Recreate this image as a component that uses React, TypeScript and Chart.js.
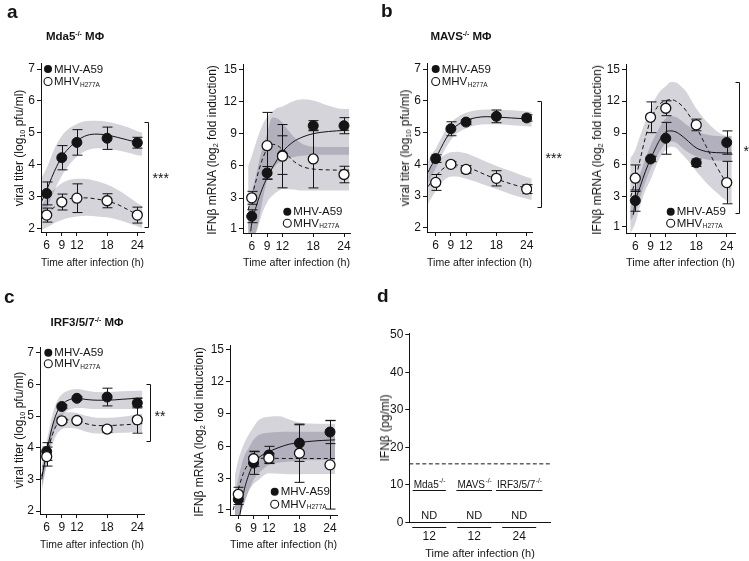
import React, { useEffect, useRef } from "react";
import { Chart, registerables } from "chart.js";

Chart.register(...registerables);

const FONT = "'Liberation Sans', Arial, Helvetica, sans-serif";
const INK = "#141414";
const BAND = "rgb(213,212,219)";
const W = 749;
const H = 561;

// ---------------- shared axis data ----------------
const times = [6, 9, 12, 18, 24];
const titerTicks = [2, 3, 4, 5, 6, 7];
const titerTickLabels = ["2", "3", "4", "5", "6", "7"];
const ifnTicks = [0.15, 3, 6, 9, 12, 15];
const ifnTickLabels = ["1", "3", "6", "9", "12", "15"];
const seriesNames = ["MHV-A59", "MHV"];
const mutantSubscript = "H277A";
const xTitle = "Time after infection (h)";

// ---------------- a: Mda5-/- viral titer ----------------
const mdaTiterA59 = [3.1, 4.22, 4.7, 4.83, 4.69];
const mdaTiterA59Err = [0.36, 0.38, 0.4, 0.35, 0.17];
const mdaTiterH277A = [2.42, 2.83, 2.95, 2.87, 2.42];
const mdaTiterH277AErr = [0.22, 0.25, 0.45, 0.22, 0.25];
const mdaTiterFitX = [5.0, 6, 7, 8, 9, 10, 12, 14, 16, 18, 20, 22, 24, 25];
const mdaTiterA59Fit = [2.85, 3.2, 3.6, 3.95, 4.25, 4.45, 4.75, 4.92, 4.96, 4.93, 4.86, 4.78, 4.7, 4.67];
const mdaTiterA59Hi = [3.6, 3.9, 4.3, 4.65, 4.9, 5.08, 5.28, 5.37, 5.38, 5.35, 5.28, 5.18, 5.05, 5.0];
const mdaTiterA59Lo = [2.35, 2.6, 3.0, 3.35, 3.65, 3.9, 4.25, 4.45, 4.52, 4.5, 4.45, 4.38, 4.3, 4.28];
const mdaTiterH277AFit = [2.3, 2.45, 2.6, 2.73, 2.84, 2.91, 2.96, 2.96, 2.92, 2.86, 2.76, 2.6, 2.43, 2.35];
const mdaTiterH277AHi = [2.75, 2.95, 3.15, 3.3, 3.42, 3.5, 3.56, 3.55, 3.48, 3.38, 3.22, 3.02, 2.8, 2.7];
const mdaTiterH277ALo = [1.95, 2.03, 2.12, 2.2, 2.27, 2.32, 2.38, 2.4, 2.38, 2.35, 2.28, 2.18, 2.07, 2.0];

// ---------------- a: Mda5-/- IFNb mRNA ----------------
const mdaIfnA59 = [1.3, 5.34, 7.0, 9.74, 9.74];
const mdaIfnA59Err = [0.6, 0.6, 1.8, 0.47, 0.75];
const mdaIfnH277A = [3.02, 7.88, 6.9, 6.64, 5.19];
const mdaIfnH277AErr = [0.6, 3.1, 2.95, 2.7, 0.77];
const mdaIfnA59FitX = [5.8, 6, 7, 8, 9, 10, 11, 12, 14, 16, 18, 21, 24, 25];
const mdaIfnA59Fit = [-0.1, 0.6, 2.4, 3.8, 4.9, 5.8, 6.6, 7.3, 8.2, 8.7, 9.0, 9.2, 9.3, 9.32];
const mdaIfnH277AFitX = [5.3, 6, 7, 8, 9, 10, 11, 12, 13, 14, 15, 16, 18, 21, 24, 25];
const mdaIfnH277AFit = [1.9, 3.1, 4.9, 6.5, 7.6, 8.0, 7.9, 7.5, 7.0, 6.5, 6.15, 5.9, 5.7, 5.62, 5.6, 5.6];
const mdaIfnBandX = [5.3, 6, 7, 8, 9, 10, 11, 12, 14, 16, 18, 21, 24, 25];
const mdaIfnA59Hi = [5.96, 6.9, 8.4, 9.7, 10.55, 11.07, 11.38, 11.53, 12.0, 12.2, 12.08, 11.6, 11.3, 11.3];
const mdaIfnA59Lo = [-0.5, -0.5, 0.0, 2.5, 4.6, 5.6, 6.2, 6.45, 6.8, 6.95, 7.03, 7.04, 7.04, 7.04];
const mdaIfnH277AHi = [2.0, 3.5, 5.5, 7.5, 9.0, 10.5, 10.4, 10.0, 8.8, 8.0, 7.78, 7.76, 7.76, 7.76];
const mdaIfnH277ALo = [-0.5, -0.5, 0.0, 1.5, 2.6, 3.2, 3.6, 3.85, 3.8, 3.7, 3.7, 3.7, 3.7, 3.7];

// ---------------- b: MAVS-/- viral titer ----------------
const mavsTiterA59 = [4.18, 5.12, 5.33, 5.51, 5.46];
const mavsTiterA59Err = [0.12, 0.22, 0.08, 0.2, 0.1];
const mavsTiterH277A = [3.43, 4.0, 3.84, 3.56, 3.22];
const mavsTiterH277AErr = [0.25, 0.08, 0.12, 0.24, 0.14];
const mavsTiterFitX = [4.5, 5, 6, 7, 8, 9, 10, 12, 14, 16, 18, 21, 24, 25];
const mavsTiterA59Fit = [3.75, 3.92, 4.18, 4.5, 4.8, 5.03, 5.2, 5.38, 5.47, 5.5, 5.49, 5.46, 5.43, 5.42];
const mavsTiterA59Hi = [4.1, 4.27, 4.5, 4.8, 5.08, 5.3, 5.45, 5.62, 5.7, 5.73, 5.72, 5.7, 5.66, 5.65];
const mavsTiterA59Lo = [3.4, 3.58, 3.88, 4.2, 4.52, 4.77, 4.95, 5.13, 5.23, 5.26, 5.26, 5.23, 5.2, 5.19];
const mavsTiterH277AFit = [3.3, 3.42, 3.62, 3.8, 3.92, 3.97, 3.98, 3.92, 3.8, 3.66, 3.54, 3.38, 3.25, 3.22];
const mavsTiterH277AHi = [3.8, 3.92, 4.1, 4.22, 4.32, 4.38, 4.4, 4.35, 4.22, 4.08, 3.95, 3.78, 3.6, 3.55];
const mavsTiterH277ALo = [2.75, 2.9, 3.15, 3.4, 3.55, 3.62, 3.62, 3.55, 3.45, 3.33, 3.22, 3.05, 2.92, 2.88];

// ---------------- b: MAVS-/- IFNb mRNA ----------------
const mavsIfnA59 = [2.63, 6.55, 8.5, 6.2, 8.1];
const mavsIfnA59Err = [1.0, 0.25, 1.5, 0.35, 1.1];
const mavsIfnH277A = [4.74, 10.48, 11.33, 9.76, 4.33];
const mavsIfnH277AErr = [1.25, 1.45, 0.7, 0.55, 2.0];
const mavsIfnA59FitX = [5.6, 6, 7, 8, 9, 10, 11, 12, 13, 14, 15, 16, 18, 20, 22, 24, 25];
const mavsIfnA59Fit = [1.3, 2.5, 4.0, 5.4, 6.55, 7.6, 8.5, 9.1, 9.2, 9.1, 8.8, 8.4, 7.6, 7.25, 7.15, 7.12, 7.12];
const mavsIfnH277AFitX = [5.1, 6, 7, 8, 9, 10, 11, 12, 13, 14, 15, 16, 18, 20, 22, 24, 24.6];
const mavsIfnH277AFit = [3.0, 4.55, 6.6, 8.6, 10.2, 11.2, 11.8, 12.05, 12.15, 12.0, 11.65, 11.1, 9.55, 7.7, 5.85, 4.25, 3.8];
const mavsIfnBandX = [5.0, 6, 7, 8, 9, 10, 11, 12, 13, 14, 15, 16, 18, 20, 22, 24, 25];
const mavsIfnA59Hi = [1.9, 3.6, 5.2, 6.6, 7.8, 8.8, 9.7, 10.4, 10.6, 10.5, 10.2, 9.8, 9.2, 8.85, 8.72, 8.7, 8.7];
const mavsIfnA59Lo = [0.7, 1.5, 3.0, 4.4, 5.6, 6.6, 7.4, 8.0, 8.2, 8.1, 7.7, 7.3, 6.8, 6.5, 6.4, 6.35, 6.35];
const mavsIfnH277AHi = [6.6, 7.4, 8.8, 10.1, 11.3, 12.3, 13.0, 13.4, 13.8, 13.75, 13.4, 12.9, 11.3, 10.1, 9.2, 8.75, 8.75];
const mavsIfnH277ALo = [-0.5, 0.5, 2.2, 3.6, 4.6, 5.8, 6.8, 7.4, 7.7, 7.6, 7.1, 6.6, 5.4, 4.3, 3.4, 2.6, 2.3];

// ---------------- c: IRF3/5/7-/- viral titer ----------------
const irfTiterA59 = [3.88, 5.3, 5.56, 5.6, 5.41];
const irfTiterA59Err = [0.28, 0.05, 0.05, 0.28, 0.15];
const irfTiterH277A = [3.72, 4.85, 4.86, 4.59, 4.88];
const irfTiterH277AErr = [0.3, 0.05, 0.04, 0.1, 0.42];
const irfTiterFitX = [5.0, 5.5, 6, 7, 8, 9, 10, 12, 14, 16, 18, 21, 24, 25];
const irfTiterA59Fit = [3.0, 3.45, 3.85, 4.6, 5.1, 5.35, 5.48, 5.56, 5.52, 5.5, 5.5, 5.53, 5.56, 5.57];
const irfTiterA59Hi = [3.35, 3.8, 4.2, 4.95, 5.45, 5.68, 5.78, 5.85, 5.8, 5.76, 5.76, 5.78, 5.8, 5.8];
const irfTiterA59Lo = [2.6, 3.05, 3.5, 4.25, 4.75, 5.02, 5.15, 5.25, 5.24, 5.22, 5.22, 5.22, 5.22, 5.22];
const irfTiterH277AFit = [3.1, 3.45, 3.75, 4.35, 4.72, 4.85, 4.88, 4.85, 4.75, 4.7, 4.7, 4.72, 4.75, 4.76];
const irfTiterH277AHi = [3.4, 3.75, 4.05, 4.65, 5.0, 5.1, 5.12, 5.1, 5.0, 4.95, 4.95, 4.98, 5.05, 5.08];
const irfTiterH277ALo = [2.75, 3.1, 3.45, 4.05, 4.42, 4.58, 4.62, 4.6, 4.5, 4.45, 4.45, 4.47, 4.5, 4.5];

// ---------------- c: IRF3/5/7-/- IFNb mRNA ----------------
const irfIfnA59 = [1.1, 4.45, 5.2, 6.3, 7.33];
const irfIfnA59Err = [0.5, 1.05, 0.8, 1.7, 1.08];
const irfIfnH277A = [1.55, 4.85, 4.9, 5.36, 4.28];
const irfIfnH277AErr = [0.65, 0.7, 0.45, 2.7, 4.1];
const irfIfnA59FitX = [6.3, 7, 8, 9, 10, 12, 14, 16, 18, 21, 24, 25];
const irfIfnA59Fit = [-0.4, 1.6, 3.3, 4.4, 4.95, 5.5, 5.9, 6.2, 6.35, 6.5, 6.58, 6.6];
const irfIfnH277AFitX = [5.0, 6, 7, 8, 9, 10, 12, 14, 18, 24, 25];
const irfIfnH277AFit = [0.1, 2.0, 3.5, 4.4, 4.78, 4.88, 4.9, 4.88, 4.87, 4.87, 4.87];
const irfIfnBandX = [5.3, 6, 7, 8, 9, 10, 12, 14, 16, 18, 21, 24, 25];
const irfIfnA59Hi = [3.25, 4.73, 6.12, 7.05, 7.82, 8.44, 8.75, 8.8, 8.5, 8.2, 8.1, 8.1, 8.1];
const irfIfnA59Lo = [-0.5, -0.5, 0.5, 1.8, 2.9, 3.5, 4.27, 4.5, 4.6, 4.67, 4.7, 4.73, 4.73];
const irfIfnH277AHi = [1.5, 3.0, 4.9, 5.8, 6.6, 7.05, 7.27, 7.33, 7.35, 7.36, 7.36, 7.36, 7.36];
const irfIfnH277ALo = [-0.5, -0.5, 0.5, 1.8, 2.5, 2.9, 3.5, 3.45, 3.4, 3.42, 3.44, 3.44, 3.44];

// ---------------- d: IFNb protein ----------------
const dGroups = ["Mda5", "MAVS", "IRF3/5/7"];
const dGroupSup = "-/-";
const dTimes = ["12", "12", "24"];
const dResults = ["ND", "ND", "ND"];
const dTicks = [0, 10, 20, 30, 40, 50];
const dDetectionLimit = 15.6;

// ---------------- plugin ----------------
// Filler updates control points in beforeDraw and paints bands in beforeDatasetsDraw;
// this plugin (running after the filler) switches to multiply in between so that
// overlapping confidence bands darken, then restores normal compositing.
const figurePlugin: any = {
  id: "figure",
  beforeDraw(chart: any) {
    chart.ctx.globalCompositeOperation = "multiply";
  },
  beforeDatasetsDraw(chart: any) {
    chart.ctx.globalCompositeOperation = "source-over";
  },
  beforeDatasetDraw(chart: any, args: any) {
    const ds: any = chart.data.datasets[args.index];
    if (!ds.errorBars) return;
    const ctx = chart.ctx;
    const ys = chart.scales.y;
    ctx.save();
    ctx.strokeStyle = INK;
    ctx.lineWidth = 1;
    args.meta.data.forEach((pt: any, i: number) => {
      const v = ds.data[i].y;
      const e = ds.errorBars[i];
      const x = Math.round(pt.x) + 0.5;
      const y1 = ys.getPixelForValue(v + e);
      const y2 = ys.getPixelForValue(v - e);
      ctx.beginPath();
      ctx.moveTo(x, y1);
      ctx.lineTo(x, y2);
      ctx.moveTo(x - 5, y1);
      ctx.lineTo(x + 5, y1);
      ctx.moveTo(x - 5, y2);
      ctx.lineTo(x + 5, y2);
      ctx.stroke();
    });
    ctx.restore();
  },
  afterDraw(chart: any, _args: any, opts: any) {
    const ctx = chart.ctx;
    const ys = chart.scales.y;
    const xs = chart.scales.x;
    const area = chart.chartArea;
    ctx.save();
    ctx.globalCompositeOperation = "source-over";
    ctx.fillStyle = INK;
    ctx.strokeStyle = INK;
    ctx.lineWidth = 1;
    if (opts.legend) {
      const { x, y, gap } = opts.legend;
      seriesNames.forEach((name, i) => {
        const cy = y + i * gap;
        ctx.beginPath();
        ctx.arc(x, cy, 4, 0, Math.PI * 2);
        if (i === 0) {
          ctx.fillStyle = INK;
          ctx.fill();
        } else {
          ctx.fillStyle = "#fff";
          ctx.fill();
          ctx.lineWidth = 1.1;
          ctx.stroke();
        }
        ctx.fillStyle = INK;
        ctx.font = `11.5px ${FONT}`;
        ctx.textAlign = "left";
        ctx.textBaseline = "middle";
        ctx.fillText(name, x + 6, cy + 0.5);
        if (i === 1) {
          const w = ctx.measureText(name).width;
          ctx.font = `6.5px ${FONT}`;
          ctx.fillText(mutantSubscript, x + 6 + w + 0.5, cy + 3.5);
        }
      });
    }
    if (opts.sig) {
      const { dx, top, bottom, label } = opts.sig;
      const bx = Math.round(area.right + dx) + 0.5;
      const y1 = Math.round(ys.getPixelForValue(top)) + 0.5;
      const y2 = Math.round(ys.getPixelForValue(bottom)) + 0.5;
      ctx.lineWidth = 1;
      ctx.beginPath();
      ctx.moveTo(bx - 4, y1);
      ctx.lineTo(bx, y1);
      ctx.lineTo(bx, y2);
      ctx.lineTo(bx - 4, y2);
      ctx.stroke();
      ctx.font = `14px ${FONT}`;
      ctx.textAlign = "left";
      ctx.textBaseline = "alphabetic";
      ctx.fillText(label, bx + 4, (y1 + y2) / 2 + 8);
    }
    if (opts.groups) {
      const g = opts.groups;
      dGroups.forEach((lab, i) => {
        const cx = xs.getPixelForValue(i + 1);
        ctx.font = `10px ${FONT}`;
        const w1 = ctx.measureText(lab).width;
        ctx.font = `6.5px ${FONT}`;
        const w2 = ctx.measureText(dGroupSup).width;
        const sx = cx - (w1 + w2) / 2;
        const gy = ys.getPixelForValue(g.labelY);
        ctx.textAlign = "left";
        ctx.textBaseline = "alphabetic";
        ctx.font = `10px ${FONT}`;
        ctx.fillText(lab, sx, gy);
        ctx.font = `6.5px ${FONT}`;
        ctx.fillText(dGroupSup, sx + w1 + 0.5, gy - 4.5);
        const uy = Math.round(ys.getPixelForValue(g.underlineY)) + 0.5;
        ctx.beginPath();
        ctx.moveTo(sx - 1, uy);
        ctx.lineTo(sx + w1 + w2 + 1, uy);
        ctx.stroke();
        ctx.font = `11px ${FONT}`;
        ctx.textAlign = "center";
        ctx.textBaseline = "middle";
        ctx.fillText(dResults[i], cx, ys.getPixelForValue(g.resultY));
        const ly = Math.round(area.bottom + 5) + 0.5;
        ctx.beginPath();
        ctx.moveTo(cx - 17, ly);
        ctx.lineTo(cx + 17, ly);
        ctx.stroke();
      });
    }
    ctx.restore();
  },
};

// ---------------- config builders ----------------
type Curve = { x: number[]; y: number[] };
type Band = { x: number[]; lo: number[]; hi: number[] };
interface SeriesPanel {
  area: [number, number, number, number];
  xRange: [number, number];
  yRange: [number, number];
  yTicks: number[];
  yTickLabels: string[];
  xTitleY: number;
  a59: number[];
  a59Err: number[];
  h277a: number[];
  h277aErr: number[];
  a59Fit: Curve;
  h277aFit: Curve;
  a59Band: Band;
  h277aBand: Band;
  legend: { x: number; y: number; gap: number };
  sig?: { dx: number; top: number; bottom: number; label: string };
}

const pts = (xs: number[], ys: number[]) => xs.map((x, i) => ({ x, y: ys[i] }));
const tickFont = { family: FONT, size: 12 };
const Y_W = 30;
const TITLE_SIZE = 11;

function axisCommon() {
  return {
    grid: { display: true, drawOnChartArea: false, drawTicks: true, tickLength: 4, color: INK, lineWidth: 1 },
    border: { display: true, color: INK, width: 1 },
  };
}

function seriesConfig(p: SeriesPanel) {
  const [l, t, r, b] = p.area;
  const xH = p.xTitleY - b + (TITLE_SIZE * 1.2) / 2;
  const bandBase = { pointRadius: 0, borderWidth: 0, borderColor: "rgba(0,0,0,0)", cubicInterpolationMode: "monotone" };
  const datasets: any[] = [
    { ...bandBase, label: "A59 band low", data: pts(p.a59Band.x, p.a59Band.lo), fill: false, order: 5 },
    { ...bandBase, label: "A59 band high", data: pts(p.a59Band.x, p.a59Band.hi), fill: "-1", backgroundColor: BAND, order: 5 },
    { ...bandBase, label: "H277A band low", data: pts(p.h277aBand.x, p.h277aBand.lo), fill: false, order: 4 },
    { ...bandBase, label: "H277A band high", data: pts(p.h277aBand.x, p.h277aBand.hi), fill: "-1", backgroundColor: BAND, order: 4 },
    { label: "A59 fit", data: pts(p.a59Fit.x, p.a59Fit.y), borderColor: INK, borderWidth: 1, pointRadius: 0, cubicInterpolationMode: "monotone", fill: false, order: 2 },
    { label: "H277A fit", data: pts(p.h277aFit.x, p.h277aFit.y), borderColor: INK, borderWidth: 1, borderDash: [4, 3], pointRadius: 0, cubicInterpolationMode: "monotone", fill: false, order: 2 },
    { label: seriesNames[0], data: pts(times, p.a59), errorBars: p.a59Err, showLine: false, pointRadius: 5, pointBackgroundColor: INK, pointBorderColor: INK, pointBorderWidth: 1, order: 1 },
    { label: seriesNames[1] + " " + mutantSubscript, data: pts(times, p.h277a), errorBars: p.h277aErr, showLine: false, pointRadius: 5, pointBackgroundColor: "#fff", pointBorderColor: INK, pointBorderWidth: 1.3, order: 0 },
  ];
  return {
    type: "line",
    data: { datasets },
    options: {
      responsive: false,
      animation: false,
      devicePixelRatio: 1,
      events: [],
      layout: { padding: { left: l - Y_W, top: t, right: W - r, bottom: H - b - xH } },
      plugins: {
        legend: { display: false },
        tooltip: { enabled: false },
        title: { display: false },
        filler: { drawTime: "beforeDatasetsDraw", propagate: false },
        figure: { legend: p.legend, sig: p.sig },
      },
      scales: {
        x: {
          type: "linear",
          min: p.xRange[0],
          max: p.xRange[1],
          ...axisCommon(),
          afterFit: (s: any) => {
            s.height = xH;
          },
          afterBuildTicks: (s: any) => {
            s.ticks = times.map((v) => ({ value: v }));
          },
          ticks: { font: tickFont, color: INK, padding: 2, autoSkip: false, maxRotation: 0, callback: (v: any) => String(v) },
          title: { display: true, text: xTitle, font: { family: FONT, size: TITLE_SIZE }, color: INK, padding: 0 },
        },
        y: {
          type: "linear",
          min: p.yRange[0],
          max: p.yRange[1],
          ...axisCommon(),
          afterFit: (s: any) => {
            s.width = Y_W;
          },
          afterBuildTicks: (s: any) => {
            s.ticks = p.yTicks.map((v) => ({ value: v }));
          },
          ticks: { font: tickFont, color: INK, padding: 2, autoSkip: false, callback: (_v: any, i: number) => p.yTickLabels[i] },
        },
      },
    },
    plugins: [figurePlugin],
  };
}

function proteinConfig() {
  const l = 409.3, t = 333, r = 550.7, b = 522.3;
  const xMin = 0.556, xMax = 3.7;
  const xH = 554 - b + (TITLE_SIZE * 1.2) / 2;
  return {
    type: "line",
    data: {
      datasets: [
        {
          label: "detection limit",
          data: [
            { x: xMin, y: dDetectionLimit },
            { x: xMax, y: dDetectionLimit },
          ],
          borderColor: INK,
          borderWidth: 1,
          borderDash: [4, 2.5],
          pointRadius: 0,
          fill: false,
        },
      ],
    },
    options: {
      responsive: false,
      animation: false,
      devicePixelRatio: 1,
      events: [],
      layout: { padding: { left: l - Y_W, top: t, right: W - r, bottom: H - b - xH } },
      plugins: {
        legend: { display: false },
        tooltip: { enabled: false },
        title: { display: false },
        figure: { groups: { labelY: 9.2, underlineY: 8.75, resultY: 1.76 } },
      },
      scales: {
        x: {
          type: "linear",
          min: xMin,
          max: xMax,
          grid: { display: false, drawTicks: false },
          border: { display: true, color: INK, width: 1 },
          afterFit: (s: any) => {
            s.height = xH;
          },
          afterBuildTicks: (s: any) => {
            s.ticks = dTimes.map((_, i) => ({ value: i + 1 }));
          },
          ticks: { font: tickFont, color: INK, padding: 7, autoSkip: false, maxRotation: 0, callback: (_v: any, i: number) => dTimes[i] },
          title: { display: true, text: xTitle, font: { family: FONT, size: TITLE_SIZE }, color: INK, padding: 0 },
        },
        y: {
          type: "linear",
          min: 0,
          max: 50.53,
          ...axisCommon(),
          afterFit: (s: any) => {
            s.width = Y_W;
          },
          afterBuildTicks: (s: any) => {
            s.ticks = dTicks.map((v) => ({ value: v }));
          },
          ticks: { font: tickFont, color: INK, padding: 2, autoSkip: false, callback: (v: any) => String(v) },
        },
      },
    },
    plugins: [figurePlugin],
  };
}

const panelBuilders: Array<() => any> = [
  () =>
    seriesConfig({
      area: [41, 63, 144, 232], xRange: [4.87, 25.33], yRange: [1.89, 7.19],
      yTicks: titerTicks, yTickLabels: titerTickLabels, xTitleY: 263,
      a59: mdaTiterA59, a59Err: mdaTiterA59Err, h277a: mdaTiterH277A, h277aErr: mdaTiterH277AErr,
      a59Fit: { x: mdaTiterFitX, y: mdaTiterA59Fit }, h277aFit: { x: mdaTiterFitX, y: mdaTiterH277AFit },
      a59Band: { x: mdaTiterFitX, lo: mdaTiterA59Lo, hi: mdaTiterA59Hi },
      h277aBand: { x: mdaTiterFitX, lo: mdaTiterH277ALo, hi: mdaTiterH277AHi },
      legend: { x: 48, y: 69, gap: 12.5 },
      sig: { dx: 3.7, top: 5.35, bottom: 2.05, label: "***" },
    }),
  () =>
    seriesConfig({
      area: [243, 64, 350, 233], xRange: [4.3, 25.17], yRange: [-0.26, 15.49],
      yTicks: ifnTicks, yTickLabels: ifnTickLabels, xTitleY: 263,
      a59: mdaIfnA59, a59Err: mdaIfnA59Err, h277a: mdaIfnH277A, h277aErr: mdaIfnH277AErr,
      a59Fit: { x: mdaIfnA59FitX, y: mdaIfnA59Fit }, h277aFit: { x: mdaIfnH277AFitX, y: mdaIfnH277AFit },
      a59Band: { x: mdaIfnBandX, lo: mdaIfnA59Lo, hi: mdaIfnA59Hi },
      h277aBand: { x: mdaIfnBandX, lo: mdaIfnH277ALo, hi: mdaIfnH277AHi },
      legend: { x: 287.3, y: 211.7, gap: 11.5 },
    }),
  () =>
    seriesConfig({
      area: [427, 63, 532, 232], xRange: [4.28, 25.05], yRange: [1.87, 7.19],
      yTicks: titerTicks, yTickLabels: titerTickLabels, xTitleY: 263,
      a59: mavsTiterA59, a59Err: mavsTiterA59Err, h277a: mavsTiterH277A, h277aErr: mavsTiterH277AErr,
      a59Fit: { x: mavsTiterFitX, y: mavsTiterA59Fit }, h277aFit: { x: mavsTiterFitX, y: mavsTiterH277AFit },
      a59Band: { x: mavsTiterFitX, lo: mavsTiterA59Lo, hi: mavsTiterA59Hi },
      h277aBand: { x: mavsTiterFitX, lo: mavsTiterH277ALo, hi: mavsTiterH277AHi },
      legend: { x: 435.7, y: 69, gap: 12.5 },
      sig: { dx: 9, top: 5.99, bottom: 2.67, label: "***" },
    }),
  () =>
    seriesConfig({
      area: [626, 64, 735, 233], xRange: [4.17, 25.63], yRange: [-0.42, 15.5],
      yTicks: ifnTicks, yTickLabels: ifnTickLabels, xTitleY: 263,
      a59: mavsIfnA59, a59Err: mavsIfnA59Err, h277a: mavsIfnH277A, h277aErr: mavsIfnH277AErr,
      a59Fit: { x: mavsIfnA59FitX, y: mavsIfnA59Fit }, h277aFit: { x: mavsIfnH277AFitX, y: mavsIfnH277AFit },
      a59Band: { x: mavsIfnBandX, lo: mavsIfnA59Lo, hi: mavsIfnA59Hi },
      h277aBand: { x: mavsIfnBandX, lo: mavsIfnH277ALo, hi: mavsIfnH277AHi },
      legend: { x: 670.7, y: 211.7, gap: 11.5 },
      sig: { dx: 4.3, top: 13.83, bottom: 1.44, label: "*" },
    }),
  () =>
    seriesConfig({
      area: [40, 347, 144, 514], xRange: [4.67, 25.33], yRange: [1.907, 7.18],
      yTicks: titerTicks, yTickLabels: titerTickLabels, xTitleY: 545,
      a59: irfTiterA59, a59Err: irfTiterA59Err, h277a: irfTiterH277A, h277aErr: irfTiterH277AErr,
      a59Fit: { x: irfTiterFitX, y: irfTiterA59Fit }, h277aFit: { x: irfTiterFitX, y: irfTiterH277AFit },
      a59Band: { x: irfTiterFitX, lo: irfTiterA59Lo, hi: irfTiterA59Hi },
      h277aBand: { x: irfTiterFitX, lo: irfTiterH277ALo, hi: irfTiterH277AHi },
      legend: { x: 48.3, y: 352.7, gap: 11 },
      sig: { dx: 6, top: 6.0, bottom: 4.21, label: "**" },
    }),
  () =>
    seriesConfig({
      area: [230, 345, 337, 515], xRange: [4.37, 25.37], yRange: [-0.37, 15.4],
      yTicks: ifnTicks, yTickLabels: ifnTickLabels, xTitleY: 545,
      a59: irfIfnA59, a59Err: irfIfnA59Err, h277a: irfIfnH277A, h277aErr: irfIfnH277AErr,
      a59Fit: { x: irfIfnA59FitX, y: irfIfnA59Fit }, h277aFit: { x: irfIfnH277AFitX, y: irfIfnH277AFit },
      a59Band: { x: irfIfnBandX, lo: irfIfnA59Lo, hi: irfIfnA59Hi },
      h277aBand: { x: irfIfnBandX, lo: irfIfnH277ALo, hi: irfIfnH277AHi },
      legend: { x: 274.7, y: 491.7, gap: 12.5 },
    }),
  proteinConfig,
];

function ChartCanvas({ build }: { build: () => any }) {
  const ref = useRef<HTMLCanvasElement>(null);
  useEffect(() => {
    const chart = new Chart(ref.current as HTMLCanvasElement, build());
    return () => chart.destroy();
  }, [build]);
  return (
    <canvas
      ref={ref}
      width={W}
      height={H}
      style={{ position: "absolute", left: 0, top: 0, width: W, height: H }}
    />
  );
}

// ---------------- text helpers ----------------
const supStyle: React.CSSProperties = { fontSize: "0.6em", verticalAlign: "0.55em", lineHeight: 0 };
const subStyle: React.CSSProperties = { fontSize: "0.6em", verticalAlign: "-0.3em", lineHeight: 0 };

function Txt({
  x, y, size, bold, anchor = "middle", rotate, children,
}: {
  x: number; y: number; size: number; bold?: boolean; anchor?: "start" | "middle"; rotate?: number; children: React.ReactNode;
}) {
  const tx = anchor === "start" ? "0" : "-50%";
  return (
    <div
      style={{
        position: "absolute",
        left: x,
        top: y,
        transform: `translate(${tx}, -50%)${rotate ? ` rotate(${rotate}deg)` : ""}`,
        fontFamily: FONT,
        fontSize: size,
        fontWeight: bold ? 700 : 400,
        whiteSpace: "nowrap",
        lineHeight: 1,
        color: INK,
      }}
    >
      {children}
    </div>
  );
}

const titerTitle = (
  <>
    viral titer (log<sub style={subStyle}>10</sub> pfu/ml)
  </>
);
const ifnTitle = (
  <>
    IFNβ mRNA (log<sub style={subStyle}>2</sub> fold induction)
  </>
);

export default function App() {
  return (
    <div style={{ position: "absolute", left: 0, top: 0, width: W, height: H, background: "#fff", overflow: "hidden" }}>
      {panelBuilders.map((b, i) => (
        <ChartCanvas key={i} build={b} />
      ))}
      <Txt x={7} y={11} size={19} bold anchor="start">a</Txt>
      <Txt x={381} y={10} size={19} bold anchor="start">b</Txt>
      <Txt x={4} y={296} size={19} bold anchor="start">c</Txt>
      <Txt x={377} y={295} size={19} bold anchor="start">d</Txt>

      <Txt x={75} y={37} size={11.5} bold>
        Mda5<sup style={supStyle}>-/-</sup> MΦ
      </Txt>
      <Txt x={461} y={37} size={11.5} bold>
        MAVS<sup style={supStyle}>-/-</sup> MΦ
      </Txt>
      <Txt x={87} y={323} size={11.5} bold>
        IRF3/5/7<sup style={supStyle}>-/-</sup> MΦ
      </Txt>

      <Txt x={19} y={148} size={12} rotate={-90}>{titerTitle}</Txt>
      <Txt x={212} y={150} size={12} rotate={-90}>{ifnTitle}</Txt>
      <Txt x={405} y={148} size={12} rotate={-90}>{titerTitle}</Txt>
      <Txt x={597} y={150} size={12} rotate={-90}>{ifnTitle}</Txt>
      <Txt x={19} y={430} size={12} rotate={-90}>{titerTitle}</Txt>
      <Txt x={199} y={432} size={12} rotate={-90}>{ifnTitle}</Txt>
      <Txt x={385} y={428} size={12} rotate={-90}>IFNβ (pg/ml)</Txt>
    </div>
  );
}
